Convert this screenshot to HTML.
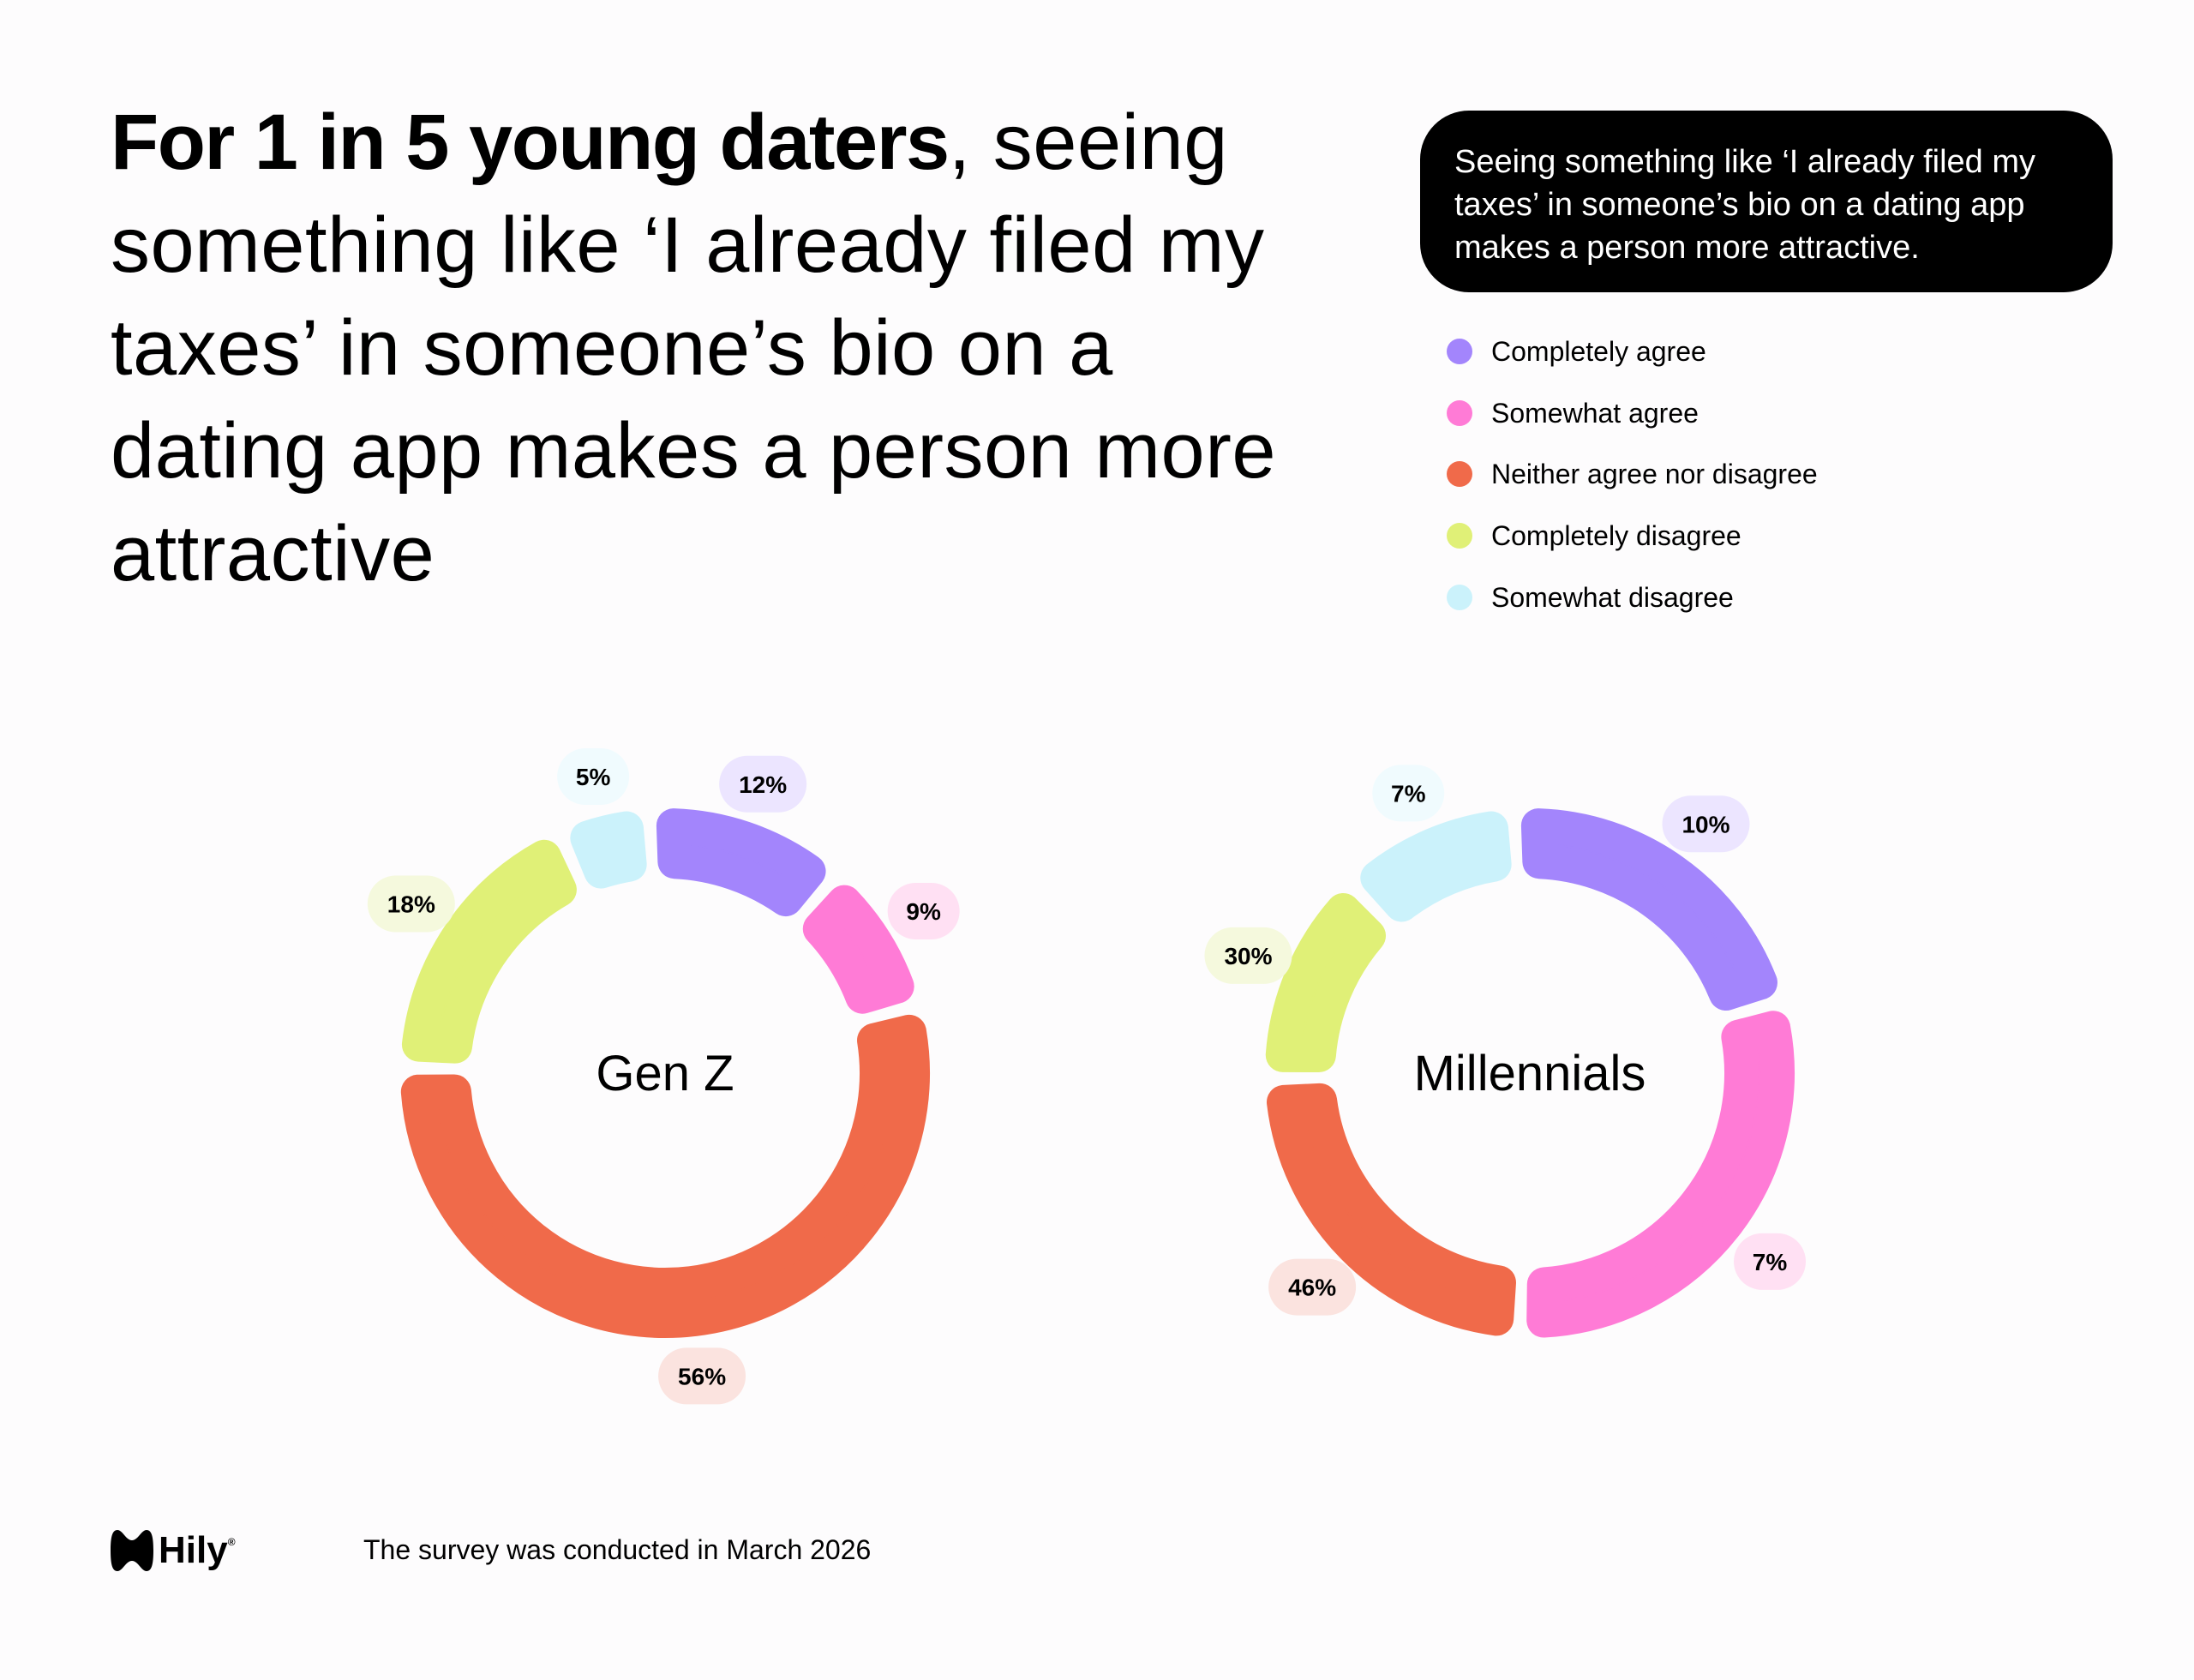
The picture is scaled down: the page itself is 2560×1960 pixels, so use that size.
<!DOCTYPE html>
<html><head><meta charset="utf-8">
<style>
html,body{margin:0;padding:0;background:#fdfcfd;}
body{width:2560px;height:1960px;position:relative;overflow:hidden;font-family:"Liberation Sans",sans-serif;color:#000;}
.title{position:absolute;left:129px;top:106px;white-space:nowrap;font-size:92px;line-height:120px;letter-spacing:0.5px;font-weight:400;}
.title b{font-weight:700;letter-spacing:-1.5px;}
.box{position:absolute;left:1657px;top:129px;width:808px;height:212px;border-radius:57px;background:#000;color:#fff;box-sizing:border-box;padding:35px 40px;font-size:38px;line-height:50px;letter-spacing:0px;white-space:nowrap;}
.leg{position:absolute;left:1688px;height:40px;display:flex;align-items:center;font-size:32px;}
.leg span.d{width:30px;height:30px;border-radius:50%;margin-right:22px;display:inline-block;}
.foot{position:absolute;left:424px;top:1790px;font-size:32px;}
.logo{position:absolute;left:129px;top:1784px;font-size:44px;font-weight:700;display:flex;align-items:center;}
</style></head><body>
<div class="title"><b>For 1 in 5 young daters</b>, seeing<br>something like ‘I already filed my<br>taxes’ in someone’s bio on a<br>dating app makes a person more<br>attractive</div>
<div class="box">Seeing something like ‘I already filed my<br>taxes’ in someone’s bio on a dating app<br>makes a person more attractive.</div>
<div class="leg" style="top:390px"><span class="d" style="background:#a385fc"></span>Completely agree</div>
<div class="leg" style="top:462px"><span class="d" style="background:#ff7bd6"></span>Somewhat agree</div>
<div class="leg" style="top:533px"><span class="d" style="background:#f06a4a"></span>Neither agree nor disagree</div>
<div class="leg" style="top:605px"><span class="d" style="background:#e0f077"></span>Completely disagree</div>
<div class="leg" style="top:677px"><span class="d" style="background:#cbf2fb"></span>Somewhat disagree</div>
<svg id="chart" width="2560" height="1960" style="position:absolute;left:0;top:0"></svg>
<div class="logo"><svg width="50" height="48" viewBox="0 0 50 48"><path d="M8 0 C2 0 0 8 0 24 C0 40 2 48 8 48 C14 48 18 36 25 36 C32 36 36 48 42 48 C48 48 50 40 50 24 C50 8 48 0 42 0 C36 0 32 12 25 12 C18 12 14 0 8 0Z" fill="#000"/></svg><span style="margin-left:6px">Hily</span><span style="font-size:12px;align-self:flex-start;margin-top:8px">®</span></div>
<div class="foot">The survey was conducted in March 2026</div>
<script>
const categories = ["Completely agree","Somewhat agree","Neither agree nor disagree","Completely disagree","Somewhat disagree"];
const colors = ["#a385fc","#ff7bd6","#f06a4a","#e0f077","#cbf2fb"];
const tints = ["#ece5ff","#ffe0f3","#fbe3df","#f5f9dd","#f0fbfe"];
const genzValues = [12,9,56,18,5];
const genzArcShares = [12,9,56,18,5];
const milValues = [10,7,46,30,7];
const milArcShares = [21.6,30.5,24.2,13,10.7];
const charts = [
  {name:"Gen Z", cx:776, cy:1252, values:genzValues, arcs:genzArcShares},
  {name:"Millennials", cx:1785, cy:1252, values:milValues, arcs:milArcShares}
];
const NS="http://www.w3.org/2000/svg";
const svg=document.getElementById('chart');
const R0=227, R1=309, RC=20, GAP=3, START=-2, LR=356;
function pt(cx,cy,r,a){const t=(a-90)*Math.PI/180;return [cx+r*Math.cos(t),cy+r*Math.sin(t)];}
charts.forEach((c,ci)=>{
  const tot=c.arcs.reduce((a,b)=>a+b,0);
  const avail=360-GAP*c.arcs.length;
  let ang=START;
  c.arcs.forEach((v,i)=>{
    const span=v/tot*avail;
    const a0=ang, a1=ang+span;
    const ri=R0+RC, ro=R1-RC;
    const dI=RC/ri*180/Math.PI, dO=RC/ro*180/Math.PI;
    const p1=pt(c.cx,c.cy,ro,a0+dO), p2=pt(c.cx,c.cy,ro,a1-dO), p3=pt(c.cx,c.cy,ri,a1-dI), p4=pt(c.cx,c.cy,ri,a0+dI);
    const large=(span>180)?1:0;
    const d=`M${p1} A${ro},${ro} 0 ${large} 1 ${p2} L${p3} A${ri},${ri} 0 ${large} 0 ${p4} Z`;
    const path=document.createElementNS(NS,'path');
    path.setAttribute('d',d);
    path.setAttribute('fill',colors[i]);
    path.setAttribute('stroke',colors[i]);
    path.setAttribute('stroke-width',RC*2);
    path.setAttribute('stroke-linejoin','round');
    
    
    svg.appendChild(path);
    const mid=(a0+a1)/2;
    const lp=pt(c.cx,c.cy,LR,mid);
    const txt=c.values[i]+'%';
    const w=txt.length>2?102:84;
    const g=document.createElementNS(NS,'g');
    
    
    const rect=document.createElementNS(NS,'rect');
    rect.setAttribute('x',lp[0]-w/2);rect.setAttribute('y',lp[1]-33);
    rect.setAttribute('width',w);rect.setAttribute('height',66);
    rect.setAttribute('rx',33);rect.setAttribute('fill',tints[i]);
    g.appendChild(rect);
    const t=document.createElementNS(NS,'text');
    t.setAttribute('x',lp[0]);t.setAttribute('y',lp[1]+10);
    t.setAttribute('text-anchor','middle');t.setAttribute('font-size','28');
    t.setAttribute('font-weight','700');t.setAttribute('font-family','Liberation Sans, sans-serif');
    t.textContent=txt;
    g.appendChild(t);
    svg.appendChild(g);
    ang=a1+GAP;
  });
  const ct=document.createElementNS(NS,'text');
  ct.setAttribute('x',c.cx);ct.setAttribute('y',c.cy+20);
  ct.setAttribute('text-anchor','middle');ct.setAttribute('font-size','58');
  ct.setAttribute('font-family','Liberation Sans, sans-serif');
  
  
  ct.textContent=c.name;
  svg.appendChild(ct);
});
</script>
</body></html>
